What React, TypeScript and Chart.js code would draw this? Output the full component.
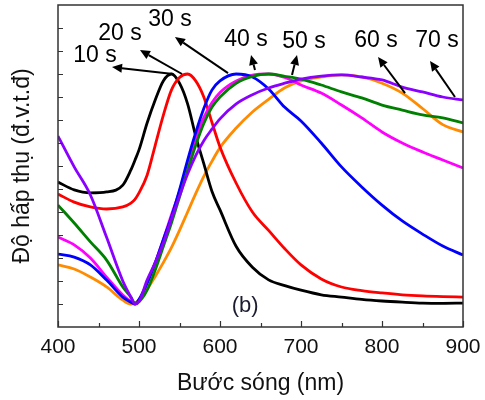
import React, { useEffect, useRef } from "react";
import { Chart, registerables } from "chart.js";

Chart.register(...registerables);

// ---------- DATA ----------
const wavelengths = [400, 420, 440, 460, 480, 490, 495, 500, 510, 520, 530, 540, 550, 560, 570, 580, 590, 600, 620, 640, 660, 680, 700, 725, 750, 775, 800, 825, 850, 875, 900];

const abs10s = [6.3, 5.96, 5.83, 5.87, 6.17, 6.83, 7.25, 7.7, 8.87, 9.87, 10.7, 11.0, 10.6, 9.7, 8.3, 7.1, 5.9, 5.09, 3.5, 2.6, 2.05, 1.8, 1.6, 1.4, 1.3, 1.2, 1.13, 1.08, 1.04, 1.03, 1.04];
const abs20s = [5.78, 5.43, 5.22, 5.13, 5.22, 5.39, 5.55, 5.83, 6.6, 7.9, 9.2, 10.3, 10.85, 11.0, 10.7, 10.0, 8.9, 7.83, 6.25, 5.0, 4.2, 3.4, 2.7, 2.09, 1.74, 1.58, 1.48, 1.4, 1.35, 1.32, 1.3];
const abs30s = [3.17, 3.04, 2.7, 2.04, 1.3, 1.08, 1.0, 1.2, 1.9, 2.78, 3.8, 4.78, 5.96, 7.26, 8.45, 9.5, 10.3, 10.7, 11.0, 10.87, 10.35, 9.55, 8.96, 8.0, 6.96, 6.09, 5.3, 4.61, 4.04, 3.52, 3.13];
const abs40s = [5.3, 4.52, 3.7, 2.91, 1.74, 1.3, 1.05, 1.1, 1.6, 2.48, 3.5, 4.52, 5.65, 6.8, 7.9, 8.85, 9.55, 10.0, 10.6, 10.9, 11.0, 10.9, 10.78, 10.52, 10.22, 9.96, 9.65, 9.43, 9.22, 9.09, 8.87];
const abs50s = [3.91, 3.57, 3.0, 2.17, 1.39, 1.1, 1.0, 1.15, 1.9, 2.8, 3.8, 4.87, 5.9, 7.1, 8.2, 9.1, 9.75, 10.2, 10.7, 10.95, 11.0, 10.85, 10.52, 10.17, 9.65, 9.09, 8.48, 8.0, 7.61, 7.26, 6.91];
const abs60s = [2.7, 2.52, 2.17, 1.74, 1.17, 1.0, 1.02, 1.2, 1.65, 2.2, 2.8, 3.45, 4.2, 5.0, 5.8, 6.55, 7.2, 7.8, 8.65, 9.35, 9.9, 10.4, 10.7, 10.87, 10.96, 10.87, 10.6, 10.17, 9.5, 8.8, 8.48];
const abs70s = [8.3, 6.96, 5.74, 3.9, 2.0, 1.3, 1.0, 1.1, 2.04, 2.8, 3.65, 4.7, 5.7, 6.65, 7.45, 8.1, 8.6, 9.05, 9.7, 10.1, 10.39, 10.6, 10.78, 10.91, 10.96, 10.87, 10.74, 10.43, 10.22, 10.0, 9.87];

const xTickValues = [400, 500, 600, 700, 800, 900];
const xMinorTickValues = [450, 550, 650, 750, 850];
const yTickValues = [1, 2, 3, 4, 5, 6, 7, 8, 9, 10, 11, 12, 13];

const seriesLabels = ["10 s", "20 s", "30 s", "40 s", "50 s", "60 s", "70 s"];
// annotation label centres (data units)
const labelX = [445.7, 476.5, 538.3, 632.1, 703.7, 792.6, 867.9];
const labelY = [11.78, 12.74, 13.35, 12.48, 12.39, 12.43, 12.43];
// arrow tails and heads (data units)
const arrowFromX = [542, 553.1, 609.9, 643.2, 688.9, 828.4, 890.1];
const arrowFromY = [11.0, 11.0, 11.04, 11.17, 10.96, 10.17, 10.0];
const arrowToX = [466.7, 501.2, 544.4, 638.3, 695.1, 795.1, 859.3];
const arrowToY = [11.3, 12.04, 12.61, 11.83, 11.83, 11.74, 11.57];

const FONT = "'Liberation Sans', Arial, sans-serif";

const decorPlugin = {
  id: "decor",
  afterDatasetsDraw(chart: any) {
    const { ctx, chartArea: a, scales } = chart;
    const x = scales.x;
    const y = scales.y;
    ctx.save();
    // frame
    ctx.strokeStyle = "#333";
    ctx.lineWidth = 1.5;
    ctx.strokeRect(a.left, a.top, a.right - a.left, a.bottom - a.top);
    // ticks (inward)
    ctx.lineWidth = 1.2;
    ctx.beginPath();
    xTickValues.forEach((v) => {
      const px = Math.round(x.getPixelForValue(v)) + 0.5;
      ctx.moveTo(px, a.bottom);
      ctx.lineTo(px, a.bottom - 6);
    });
    xMinorTickValues.forEach((v) => {
      const px = Math.round(x.getPixelForValue(v)) + 0.5;
      ctx.moveTo(px, a.bottom);
      ctx.lineTo(px, a.bottom - 4);
    });
    yTickValues.forEach((v) => {
      const py = Math.round(y.getPixelForValue(v)) + 0.5;
      ctx.moveTo(a.left, py);
      ctx.lineTo(a.left + 5, py);
    });
    ctx.stroke();

    // arrows
    ctx.strokeStyle = "#000";
    ctx.fillStyle = "#000";
    for (let i = 0; i < seriesLabels.length; i++) {
      const x1 = x.getPixelForValue(arrowFromX[i]);
      const y1 = y.getPixelForValue(arrowFromY[i]);
      const x2 = x.getPixelForValue(arrowToX[i]);
      const y2 = y.getPixelForValue(arrowToY[i]);
      const ang = Math.atan2(y2 - y1, x2 - x1);
      const hl = 10;
      const hw = 4.5;
      const bx = x2 - hl * Math.cos(ang);
      const by = y2 - hl * Math.sin(ang);
      ctx.lineWidth = 2;
      ctx.beginPath();
      ctx.moveTo(x1, y1);
      ctx.lineTo(bx, by);
      ctx.stroke();
      ctx.beginPath();
      ctx.moveTo(x2, y2);
      ctx.lineTo(bx + hw * Math.sin(ang), by - hw * Math.cos(ang));
      ctx.lineTo(bx - hw * Math.sin(ang), by + hw * Math.cos(ang));
      ctx.closePath();
      ctx.fill();
    }
    // labels
    ctx.font = `23px ${FONT}`;
    ctx.textAlign = "center";
    ctx.textBaseline = "middle";
    ctx.fillStyle = "#000";
    for (let i = 0; i < seriesLabels.length; i++) {
      ctx.fillText(seriesLabels[i], x.getPixelForValue(labelX[i]), y.getPixelForValue(labelY[i]));
    }
    ctx.fillStyle = "#1c1c30";
    ctx.font = `22px ${FONT}`;
    ctx.fillText("(b)", x.getPixelForValue(631), y.getPixelForValue(0.9));
    ctx.restore();
  },
};

export default function App() {
  const ref = useRef<HTMLCanvasElement | null>(null);
  useEffect(() => {
    if (!ref.current) return;
    const mk = (data: number[]) => wavelengths.map((w, i) => ({ x: w, y: data[i] }));
    const ds = (label: string, data: number[], color: string) => ({
      label,
      data: mk(data),
      borderColor: color,
      backgroundColor: color,
      borderWidth: 2.8,
      pointRadius: 0,
      fill: false,
      cubicInterpolationMode: "monotone" as const,
    });
    const chart = new Chart(ref.current, {
      type: "line",
      data: {
        datasets: [
          ds("70 s", abs70s, "#8a00ff"),
          ds("40 s", abs40s, "#008000"),
          ds("30 s", abs30s, "#0000ff"),
          ds("50 s", abs50s, "#ff00ff"),
          ds("20 s", abs20s, "#ff0000"),
          ds("10 s", abs10s, "#000000"),
          ds("60 s", abs60s, "#ff8c00"),
        ],
      },
      options: {
        animation: false,
        responsive: false,
        maintainAspectRatio: false,
        devicePixelRatio: 1,
        layout: { padding: { top: 5, right: 22, left: 0, bottom: 0 } },
        plugins: { legend: { display: false }, tooltip: { enabled: false } },
        scales: {
          x: {
            type: "linear",
            min: 400,
            max: 900,
            ticks: { stepSize: 100, font: { family: FONT, size: 21 }, color: "#111", padding: 0, maxRotation: 0 },
            grid: { display: false },
            border: { display: false },
            title: { display: true, text: "Bước sóng (nm)", font: { family: FONT, size: 23 }, color: "#111", padding: { top: 0, bottom: 3 } },
            afterFit: (s: any) => {
              s.height = 73;
            },
          },
          y: {
            min: 0,
            max: 14,
            ticks: { display: false },
            grid: { display: false },
            border: { display: false },
            title: { display: true, text: "Độ hấp thụ (đ.v.t.đ)", font: { family: FONT, size: 23 }, color: "#111", padding: { top: 9, bottom: 0 } },
            afterFit: (s: any) => {
              s.width = 58;
            },
          },
        },
      },
      plugins: [decorPlugin],
    });
    return () => chart.destroy();
  }, []);
  return (
    <div style={{ position: "fixed", left: 0, top: 0, width: 485, height: 400, background: "#fff" }}>
      <canvas ref={ref} width={485} height={400} />
    </div>
  );
}
